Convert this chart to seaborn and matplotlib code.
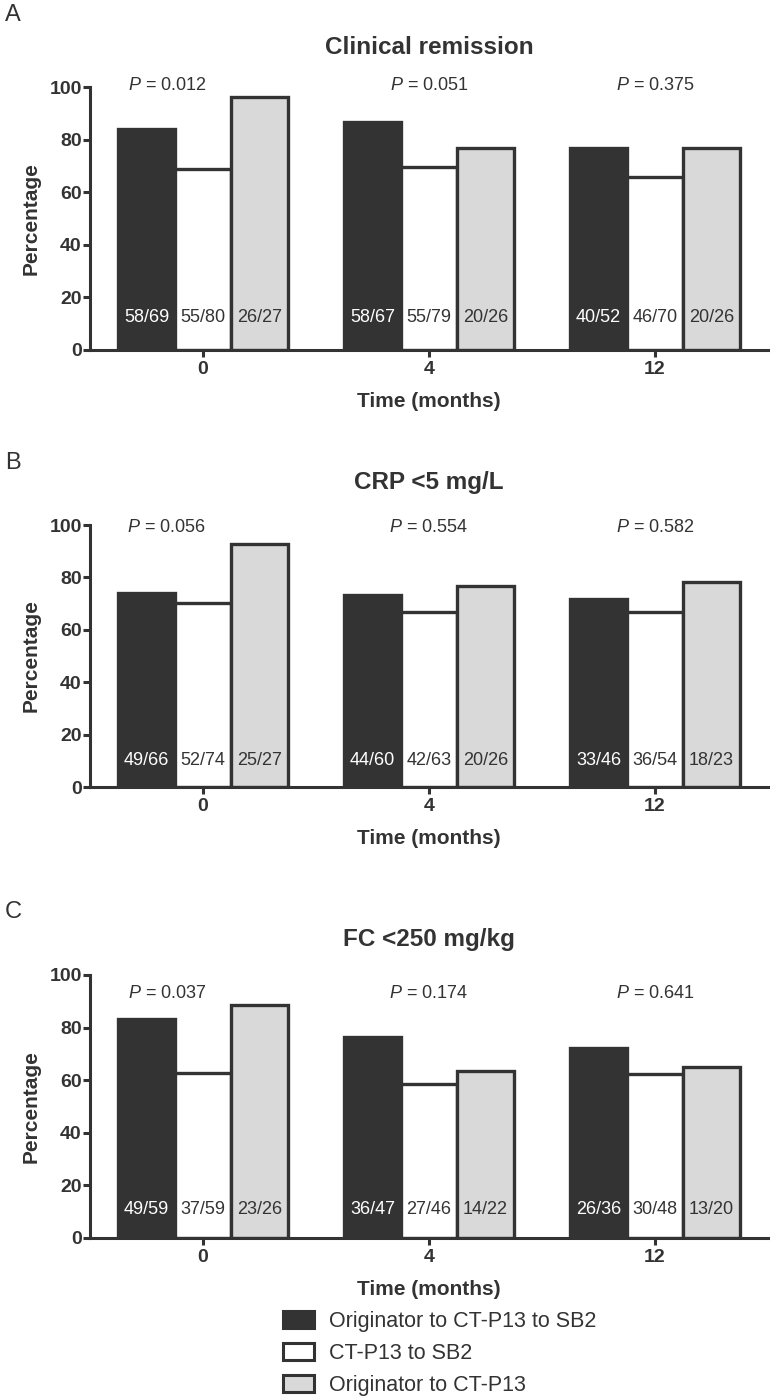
import numpy as np
import pandas as pd
import matplotlib.pyplot as plt
import seaborn as sns
from matplotlib.patches import Patch

# data
months = ['0', '4', '12']
groups = ['Originator to CT-P13 to SB2', 'CT-P13 to SB2', 'Originator to CT-P13']
letters = ['A', 'B', 'C']
titles = ['Clinical remission', 'CRP <5 mg/L', 'FC <250 mg/kg']

# percentages: one row per group, one column per month
pct_a = [[84.1, 86.6, 76.9], [68.8, 69.6, 65.7], [96.3, 76.9, 76.9]]
pct_b = [[74.2, 73.3, 71.7], [70.3, 66.7, 66.7], [92.6, 76.9, 78.3]]
pct_c = [[83.1, 76.6, 72.2], [62.7, 58.7, 62.5], [88.5, 63.6, 65.0]]

frac_a = [['58/69', '58/67', '40/52'], ['55/80', '55/79', '46/70'], ['26/27', '20/26', '20/26']]
frac_b = [['49/66', '44/60', '33/46'], ['52/74', '42/63', '36/54'], ['25/27', '20/26', '18/23']]
frac_c = [['49/59', '36/47', '26/36'], ['37/59', '27/46', '30/48'], ['23/26', '14/22', '13/20']]

pvals_a = ['0.012', '0.051', '0.375']
pvals_b = ['0.056', '0.554', '0.582']
pvals_c = ['0.037', '0.174', '0.641']

#1. style
sns.set_style('ticks')
plt.rcParams['font.family'] = ['Liberation Sans', 'DejaVu Sans']
plt.rcParams['mathtext.fontset'] = 'custom'
plt.rcParams['mathtext.it'] = 'Liberation Sans:italic'
plt.rcParams['mathtext.rm'] = 'Liberation Sans'

ink = '#333333'
colors = [ink, 'white', '#d9d9d9']
palette = dict(zip(groups, colors))


def make_frame(pct):
    rows = []
    for g, vals in zip(groups, pct):
        for m, v in zip(months, vals):
            rows.append({'Time': m, 'Group': g, 'Percentage': v})
    return pd.DataFrame(rows)


fig = plt.figure(figsize=(7.76, 13.98), dpi=100)
H = 1398.0
W = 776.0

# axes top / bottom in pixels
ax_px = [(87, 350), (525, 787), (975, 1238)]
title_px = [47, 483, 940]
letter_px = [15, 463, 912]
p_y = [100.5, 99, 93]
frac_y = [12.5, 10, 11]
p_dx = [-0.16, 0, 0]

all_pct = [pct_a, pct_b, pct_c]
all_frac = [frac_a, frac_b, frac_c]
all_p = [pvals_a, pvals_b, pvals_c]

for k in range(3):
    top, bot = ax_px[k]
    ax = fig.add_axes([90 / W, 1 - bot / H, (768 - 90) / W, (bot - top) / H])
    df = make_frame(all_pct[k])
    sns.barplot(data=df, x='Time', y='Percentage', hue='Group', order=months,
                hue_order=groups, palette=palette, saturation=1, width=0.75,
                edgecolor=ink, linewidth=2.4, legend=False, ax=ax, errorbar=None)
    ax.set_xlim(-0.5, 2.5)
    ax.set_ylim(0, 100)
    ax.set_yticks([0, 20, 40, 60, 80, 100])
    sns.despine(ax=ax)
    for s in ['left', 'bottom']:
        ax.spines[s].set_linewidth(2.2)
        ax.spines[s].set_color(ink)
    ax.tick_params(width=2.2, length=5, color=ink, labelsize=14, labelcolor=ink)
    ax.tick_params(axis='y', pad=1)
    ax.tick_params(axis='x', pad=3)
    for lbl in ax.get_xticklabels() + ax.get_yticklabels():
        lbl.set_fontweight('bold')

    ax.set_xlabel('Time (months)', fontsize=15, fontweight='bold', color=ink)
    ax.xaxis.set_label_coords(0.5, -0.195)
    ax.xaxis.label.set_va('center')
    ax.set_ylabel('Percentage', fontsize=15, fontweight='bold', color=ink)
    ax.yaxis.set_label_coords(-0.087, 0.5)
    ax.yaxis.label.set_va('center')

    ax.set_title(titles[k], fontsize=17.5, fontweight='bold', color=ink,
                 y=1 + (top - title_px[k]) / (bot - top), va='center', pad=0)
    fig.text(13 / W, 1 - letter_px[k] / H, letters[k], fontsize=17,
             ha='center', va='center', color=ink)

    # n/N labels inside bars
    for i, cont in enumerate(ax.containers):
        for j, bar in enumerate(cont.patches):
            xc = bar.get_x() + bar.get_width() / 2
            ax.text(xc, frac_y[k], all_frac[k][i][j], ha='center', va='center',
                    fontsize=13, color='white' if i == 0 else ink)

    # P values
    for j in range(3):
        ax.text(j + p_dx[j], p_y[k], r'$P$ = ' + all_p[k][j], ha='center',
                va='center', fontsize=13, color=ink)

handles = [Patch(facecolor=c, edgecolor=ink, linewidth=2.2, label=g)
           for g, c in zip(groups, colors)]
fig.legend(handles=handles, loc='upper left', bbox_to_anchor=(283 / W, 1 - 1311 / H),
           frameon=False, fontsize=15.5, handlelength=1.45, handleheight=0.85,
           handletextpad=0.7, labelspacing=0.5, borderpad=0, borderaxespad=0,
           labelcolor=ink)

plt.savefig('out.png', dpi=100)
